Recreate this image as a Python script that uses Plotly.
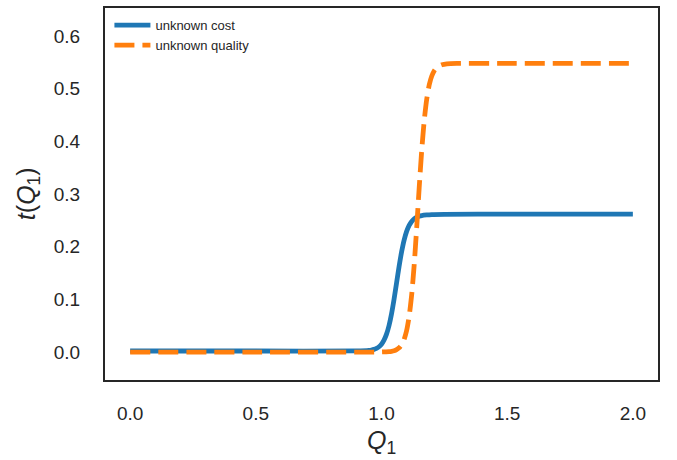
import plotly.graph_objects as go

# Data
q_cost = [0.0, 0.5, 0.9, 0.95, 0.96, 0.97, 0.98, 0.99, 1.00, 1.01, 1.02, 1.03, 1.04, 1.05,
          1.06, 1.07, 1.08, 1.09, 1.10, 1.11, 1.12, 1.13, 1.14, 1.15, 1.16, 1.18, 1.20,
          1.25, 1.5, 2.0]
t_cost = [0.002, 0.002, 0.0022, 0.0032, 0.0039, 0.0051, 0.0070, 0.0101, 0.0150, 0.0226,
          0.0340, 0.0504, 0.0727, 0.1004, 0.1315, 0.1626, 0.1903, 0.2126, 0.2290, 0.2404,
          0.2480, 0.2529, 0.2560, 0.2579, 0.2591, 0.2603, 0.2610, 0.2615, 0.2617, 0.2617]

q_quality = [0.0, 0.5, 1.0, 1.03, 1.04, 1.05, 1.06, 1.07, 1.08, 1.09, 1.10, 1.11, 1.12,
             1.13, 1.14, 1.15, 1.16, 1.17, 1.18, 1.19, 1.20, 1.21, 1.22, 1.23, 1.24,
             1.26, 1.30, 1.5, 2.0]
t_quality = [0.0, 0.0, 0.0002, 0.0009, 0.0015, 0.0027, 0.0047, 0.0081, 0.0140, 0.0241,
             0.0408, 0.0677, 0.1084, 0.1652, 0.2359, 0.3121, 0.3828, 0.4396, 0.4803,
             0.5072, 0.5239, 0.5340, 0.5399, 0.5433, 0.5453, 0.5471, 0.5479, 0.548, 0.548]

series_names = ["unknown cost", "unknown quality"]
x_ticks = [0.0, 0.5, 1.0, 1.5, 2.0]
y_ticks = [0.0, 0.1, 0.2, 0.3, 0.4, 0.5, 0.6]
x_title = "<i>Q</i><sub>1</sub>"
y_title = "<i>t</i>(<i>Q</i><sub>1</sub>)"

FONT = "Liberation Sans, Arial, sans-serif"
DARK = "#262626"

fig = go.Figure()
fig.add_trace(go.Scatter(x=q_cost, y=t_cost, mode="lines", name=series_names[0],
                         line=dict(color="#1f77b4", width=4.8, shape="spline", smoothing=0.6)))
fig.add_trace(go.Scatter(x=q_quality, y=t_quality, mode="lines", name=series_names[1],
                         line=dict(color="#ff7f0e", width=4.8, dash="20px,8px",
                                   shape="spline", smoothing=0.6)))

axis_common = dict(showgrid=False, zeroline=False, showline=True, mirror=True,
                   linecolor=DARK, linewidth=2, ticks="outside", tickcolor="rgba(0,0,0,0)",
                   automargin=False,
                   tickfont=dict(family=FONT, size=19, color=DARK))

fig.update_layout(
    width=677, height=460,
    margin=dict(l=105, r=19, t=8, b=80, autoexpand=False),
    plot_bgcolor="white", paper_bgcolor="white",
    showlegend=True,
    legend=dict(x=0.008, y=0.994, xanchor="left", yanchor="top",
                bgcolor="rgba(0,0,0,0)", font=dict(family=FONT, size=13, color=DARK),
                itemwidth=36, tracegroupgap=0),
    xaxis=dict(range=[-0.1, 2.1], tickvals=x_ticks, ticktext=[f"{v:.1f}" for v in x_ticks],
               ticklen=15, **axis_common),
    yaxis=dict(range=[-0.053, 0.653], tickvals=y_ticks, ticktext=[f"{v:.1f}" for v in y_ticks],
               ticklen=19, **axis_common),
    annotations=[
        dict(text=x_title, xref="paper", yref="paper", x=0.5, y=-0.166,
             xanchor="center", yanchor="middle", showarrow=False,
             font=dict(family=FONT, size=25, color=DARK)),
        dict(text=y_title, xref="paper", yref="paper", x=-0.139, y=0.5,
             xanchor="center", yanchor="middle", showarrow=False, textangle=-90,
             font=dict(family=FONT, size=25, color=DARK)),
    ],
)

fig.write_html("out.html", config={"displayModeBar": False},
               post_script="document.body.style.margin='0';")
